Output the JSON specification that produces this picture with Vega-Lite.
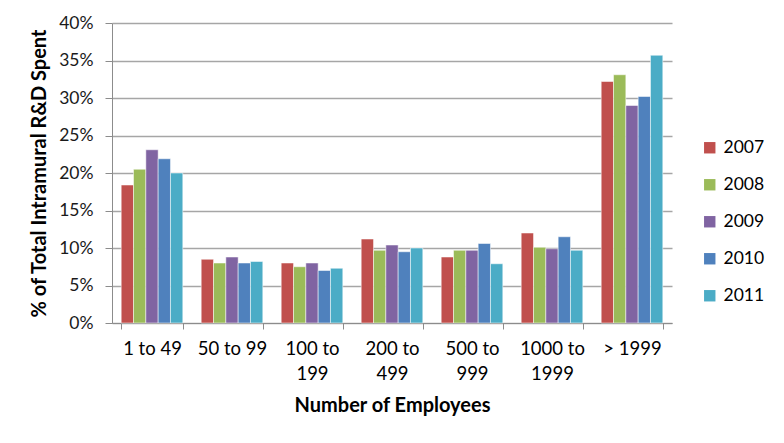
{
  "$schema": "https://vega.github.io/schema/vega-lite/v6.json",
  "width": 560,
  "height": 300,
  "autosize": "none",
  "padding": {"left": 112, "top": 23, "right": 112, "bottom": 120},
  "background": "white",
  "data": {
    "values": [
      {"size": "1 to 49", "year": "2007", "pct": 18.4},
      {"size": "1 to 49", "year": "2008", "pct": 20.5},
      {"size": "1 to 49", "year": "2009", "pct": 23.1},
      {"size": "1 to 49", "year": "2010", "pct": 21.9},
      {"size": "1 to 49", "year": "2011", "pct": 20.0},
      {"size": "50 to 99", "year": "2007", "pct": 8.5},
      {"size": "50 to 99", "year": "2008", "pct": 8.0},
      {"size": "50 to 99", "year": "2009", "pct": 8.8},
      {"size": "50 to 99", "year": "2010", "pct": 8.0},
      {"size": "50 to 99", "year": "2011", "pct": 8.2},
      {"size": "100 to 199", "year": "2007", "pct": 8.0},
      {"size": "100 to 199", "year": "2008", "pct": 7.5},
      {"size": "100 to 199", "year": "2009", "pct": 8.0},
      {"size": "100 to 199", "year": "2010", "pct": 7.0},
      {"size": "100 to 199", "year": "2011", "pct": 7.3},
      {"size": "200  to 499", "year": "2007", "pct": 11.2},
      {"size": "200  to 499", "year": "2008", "pct": 9.7},
      {"size": "200  to 499", "year": "2009", "pct": 10.4},
      {"size": "200  to 499", "year": "2010", "pct": 9.5},
      {"size": "200  to 499", "year": "2011", "pct": 10.0},
      {"size": "500 to 999", "year": "2007", "pct": 8.8},
      {"size": "500 to 999", "year": "2008", "pct": 9.7},
      {"size": "500 to 999", "year": "2009", "pct": 9.7},
      {"size": "500 to 999", "year": "2010", "pct": 10.6},
      {"size": "500 to 999", "year": "2011", "pct": 7.9},
      {"size": "1000 to 1999", "year": "2007", "pct": 12.0},
      {"size": "1000 to 1999", "year": "2008", "pct": 10.1},
      {"size": "1000 to 1999", "year": "2009", "pct": 9.9},
      {"size": "1000 to 1999", "year": "2010", "pct": 11.5},
      {"size": "1000 to 1999", "year": "2011", "pct": 9.7},
      {"size": "> 1999", "year": "2007", "pct": 32.2},
      {"size": "> 1999", "year": "2008", "pct": 33.1},
      {"size": "> 1999", "year": "2009", "pct": 29.0},
      {"size": "> 1999", "year": "2010", "pct": 30.2},
      {"size": "> 1999", "year": "2011", "pct": 35.7}
    ]
  },
  "mark": {"type": "bar", "strokeWidth": 1, "strokeOpacity": 0.5, "stroke": "white"},
  "encoding": {
    "x": {
      "field": "size",
      "type": "nominal",
      "sort": null,
      "scale": {"paddingInner": 0.23, "paddingOuter": 0.115},
      "axis": {
        "title": "Number of Employees",
        "titleFont": "Lato",
        "titleFontSize": 20,
        "titleFontWeight": "bold",
        "titleColor": "black",
        "titlePadding": 13,
        "labelAngle": 0,
        "labelFont": "Lato",
        "labelFontSize": 18.5,
        "labelColor": "black",
        "labelPadding": 10,
        "labelLineHeight": 25,
        "labelExpr": "indexof(['1 to 49','50 to 99','> 1999'], datum.label) >= 0 ? datum.label : [substring(datum.label, 0, lastindexof(datum.label, ' ')), substring(datum.label, lastindexof(datum.label, ' ') + 1)]",
        "tickBand": "extent",
        "tickSize": 6,
        "tickColor": "#8c8c8c",
        "domainColor": "#8c8c8c",
        "domainWidth": 1
      }
    },
    "xOffset": {"field": "year", "type": "nominal"},
    "y": {
      "field": "pct",
      "type": "quantitative",
      "scale": {"domain": [0, 40], "nice": false},
      "axis": {
        "title": "% of Total Intramural R&D Spent",
        "titleFont": "Lato",
        "titleFontSize": 20,
        "titleFontWeight": "bold",
        "titleColor": "black",
        "titlePadding": 9,
        "values": [0, 5, 10, 15, 20, 25, 30, 35, 40],
        "labelExpr": "datum.value + '%'",
        "labelFont": "Lato",
        "labelFontSize": 17.5,
        "labelColor": "#1a1a1a",
        "labelPadding": 12,
        "tickSize": 7,
        "tickColor": "#8c8c8c",
        "domainColor": "#8c8c8c",
        "grid": true,
        "gridColor": "#a6a6a6",
        "gridWidth": 1.5
      }
    },
    "color": {
      "field": "year",
      "type": "nominal",
      "scale": {"range": ["#C0504D", "#9BBB59", "#8064A2", "#4F81BD", "#4BACC6"]},
      "legend": {
        "title": null,
        "orient": "none",
        "legendX": 589,
        "legendY": 116,
        "symbolType": "square",
        "symbolSize": 130,
        "symbolStrokeWidth": 0,
        "labelFont": "Lato",
        "labelFontSize": 17.5,
        "labelColor": "black",
        "rowPadding": 18,
        "labelOffset": 5
      }
    }
  },
  "config": {
    "view": {"stroke": null},
    "axis": {"gridDash": []}
  }
}
